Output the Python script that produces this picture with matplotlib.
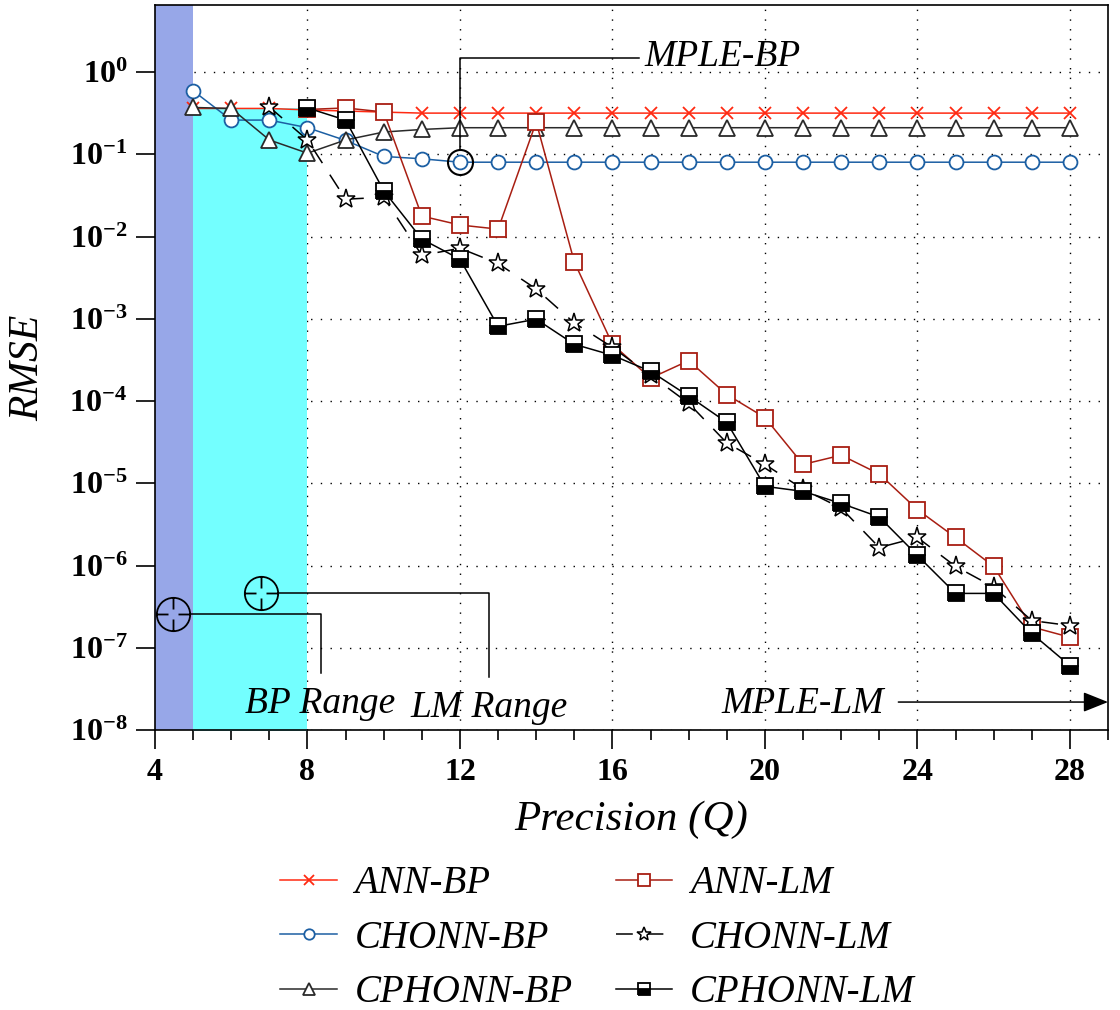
import numpy as np
import matplotlib
matplotlib.use("Agg")
import matplotlib.pyplot as plt
from matplotlib.path import Path
from matplotlib.ticker import FixedLocator, FuncFormatter, MultipleLocator

plt.rcParams["font.family"] = ["Liberation Serif", "DejaVu Serif"]
plt.rcParams["mathtext.fontset"] = "custom"
plt.rcParams["mathtext.rm"] = "Liberation Serif"
plt.rcParams["mathtext.bf"] = "Liberation Serif:bold"
plt.rcParams["mathtext.it"] = "Liberation Serif:italic"

# ── Data: RMSE against fixed-point precision Q ─────────────────────────────────
q_ann_bp = np.arange(5, 29)
rmse_ann_bp = [0.36, 0.36, 0.36, 0.345, 0.335, 0.325] + [0.316] * 18

q_chonn_bp = np.arange(5, 29)
rmse_chonn_bp = [0.59, 0.26, 0.26, 0.21, 0.147, 0.094, 0.088] + [0.080] * 17

q_cphonn_bp = np.arange(5, 29)
rmse_cphonn_bp = [0.37, 0.36, 0.149, 0.103, 0.149, 0.186, 0.200] + [0.210] * 17

q_ann_lm = np.arange(8, 29)
rmse_ann_lm = [0.35, 0.365, 0.326, 0.0177, 0.0138, 0.0123, 0.246, 0.0049,
               4.9e-4, 1.9e-4, 3.1e-4, 1.2e-4, 6.3e-5, 1.7e-5, 2.2e-5,
               1.3e-5, 4.8e-6, 2.2e-6, 9.8e-7, 1.8e-7, 1.35e-7]

q_chonn_lm = np.arange(7, 29)
rmse_chonn_lm = [0.375, 0.149, 0.0284, 0.030, 0.0059, 0.0072, 0.0047, 0.0023,
                 8.9e-4, 4.5e-4, 2.06e-4, 9.4e-5, 3.1e-5, 1.7e-5, 8.5e-6,
                 5.0e-6, 1.66e-6, 2.2e-6, 9.8e-7, 5.5e-7, 2.15e-7, 1.87e-7]

q_cphonn_lm = np.arange(8, 29)
rmse_cphonn_lm = [0.365, 0.26, 0.036, 0.0093, 0.0053, 8.1e-4, 9.9e-4, 4.9e-4,
                  3.6e-4, 2.3e-4, 1.15e-4, 5.5e-5, 9.2e-6, 8.0e-6, 5.7e-6,
                  3.9e-6, 1.33e-6, 4.6e-7, 4.6e-7, 1.5e-7, 6.1e-8]

bp_only_q = (4, 5)         # blue band
lm_range_q = (5, 8)        # cyan band
lm_range_top = 0.36

x_ticks = [4, 8, 12, 16, 20, 24, 28]
y_exponents = list(range(-8, 1))

# ── Figure ────────────────────────────────────────────────────────────────────
fig = plt.figure(figsize=(11.2, 10.1), dpi=100)
ax = fig.add_axes([0.1384, 0.277, 0.8509, 0.718])
ax.set_yscale("log")
ax.set_xlim(4, 29)
ax.set_ylim(1e-8, 6.5)

ax.set_axisbelow(True)
ax.grid(True, which="major", color="black", linestyle=(0, (1, 6)), linewidth=1.0)

ax.axvspan(*bp_only_q, color="#97a7e8", zorder=1, lw=0)
ax.fill_between(lm_range_q, 1e-9, lm_range_top, color="#73ffff", zorder=1, lw=0)

lw = 1.1
ax.plot(q_ann_bp, rmse_ann_bp, color="#ff2a12", lw=lw, marker="x", ms=9,
        mew=1.3, label="ANN-BP", zorder=3)
ax.plot(q_chonn_bp, rmse_chonn_bp, color="#1c5fa3", lw=lw, marker="o", ms=10,
        mfc="white", mew=1.3, label="CHONN-BP", zorder=3)
ax.plot(q_cphonn_bp, rmse_cphonn_bp, color="#2a2a2a", lw=lw, marker="^", ms=11,
        mfc="white", mew=1.3, label="CPHONN-BP", zorder=3)
ax.plot(q_ann_lm, rmse_ann_lm, color="#a81e12", lw=lw, marker="s", ms=11,
        mfc="white", mew=1.3, label="ANN-LM", zorder=3)
ax.plot(q_chonn_lm, rmse_chonn_lm, color="black", lw=lw, ls=(0, (11, 9)),
        marker="*", ms=14, mfc="white", mew=1.1, label="CHONN-LM", zorder=3)
ax.plot(q_cphonn_lm, rmse_cphonn_lm, color="black", lw=lw, marker="s", ms=11,
        fillstyle="bottom", mfc="black", mfcalt="white", mew=1.3,
        label="CPHONN-LM", zorder=4)

# ── Axes styling ──────────────────────────────────────────────────────────────
for s in ax.spines.values():
    s.set_linewidth(1.2)
ax.xaxis.set_major_locator(FixedLocator(x_ticks))
ax.xaxis.set_minor_locator(MultipleLocator(1))
ax.yaxis.set_major_locator(FixedLocator([10.0 ** e for e in y_exponents]))
ax.yaxis.set_minor_locator(FixedLocator([]))
ax.yaxis.set_major_formatter(FuncFormatter(
    lambda v, p: r"$\mathbf{10^{%d}}$" % int(round(np.log10(v)))))
ax.tick_params(axis="both", which="major", direction="out", length=14,
               width=1.2, labelsize=23, pad=6)
ax.tick_params(axis="x", which="minor", direction="out", length=7, width=1.2)
for t in ax.get_xticklabels():
    t.set_fontweight("bold")

ax.set_xlabel("Precision (Q)", fontsize=31, style="italic", labelpad=10)
ax.set_ylabel("RMSE", fontsize=30, style="italic", labelpad=16)

# ── Annotations ───────────────────────────────────────────────────────────────
q_mark = 12
rmse_mark = rmse_chonn_bp[list(q_chonn_bp).index(q_mark)]
ax.plot([q_mark], [rmse_mark], marker="o", ms=18, mfc="none", mec="black",
        mew=1.5, zorder=5)
ax.plot([q_mark, q_mark, 16.7], [rmse_mark * 1.4, 1.48, 1.48], color="black",
        lw=1.1, zorder=5, clip_on=False)
ax.text(16.85, 1.55, "MPLE-BP", fontsize=27, style="italic", va="center",
        ha="left", zorder=6)

# crosshair marker: circle with four inward ticks
ring = Path.unit_circle()
ticks = Path([(0, 1), (0, 0.3), (0, -1), (0, -0.3), (1, 0), (0.3, 0),
              (-1, 0), (-0.3, 0)],
             [Path.MOVETO, Path.LINETO] * 4)
crosshair = Path.make_compound_path(ring, ticks)

pointers = [((4.47, 2.6e-7), 8.35, 4.9e-8),
            ((6.78, 4.6e-7), 12.76, 4.4e-8)]
for (px, py), corner_x, end_y in pointers:
    ax.plot([px], [py], marker=crosshair, ms=24, mfc="none", mec="black",
            mew=1.3, zorder=5)
    ax.plot([px + 0.45, corner_x, corner_x], [py, py, end_y], color="black",
            lw=1.1, zorder=5)

ax.text(6.35, 1.63e-8, "BP Range", fontsize=27, style="italic", ha="left",
        va="baseline", zorder=6)
ax.text(10.7, 1.45e-8, "LM Range", fontsize=27, style="italic", ha="left",
        va="baseline", zorder=6)
ax.text(18.85, 1.63e-8, "MPLE-LM", fontsize=27, style="italic", ha="left",
        va="baseline", zorder=6)
ax.annotate("", xy=(29, 2.2e-8), xytext=(23.5, 2.2e-8),
            arrowprops=dict(arrowstyle="-|>,head_length=0.55,head_width=0.22",
                            color="black", lw=1.1, mutation_scale=28,
                            shrinkA=0, shrinkB=0),
            annotation_clip=False, zorder=6)

# ── Legend ────────────────────────────────────────────────────────────────────
fig.legend(*ax.get_legend_handles_labels(), loc="upper center",
           bbox_to_anchor=(0.5335, 0.178), ncol=2, frameon=False,
           prop={"style": "italic", "size": 28},
           markerscale=0.75, handlelength=1.45, handletextpad=0.45,
           columnspacing=1.12, labelspacing=0.45)

fig.savefig("out.png", dpi=100)
